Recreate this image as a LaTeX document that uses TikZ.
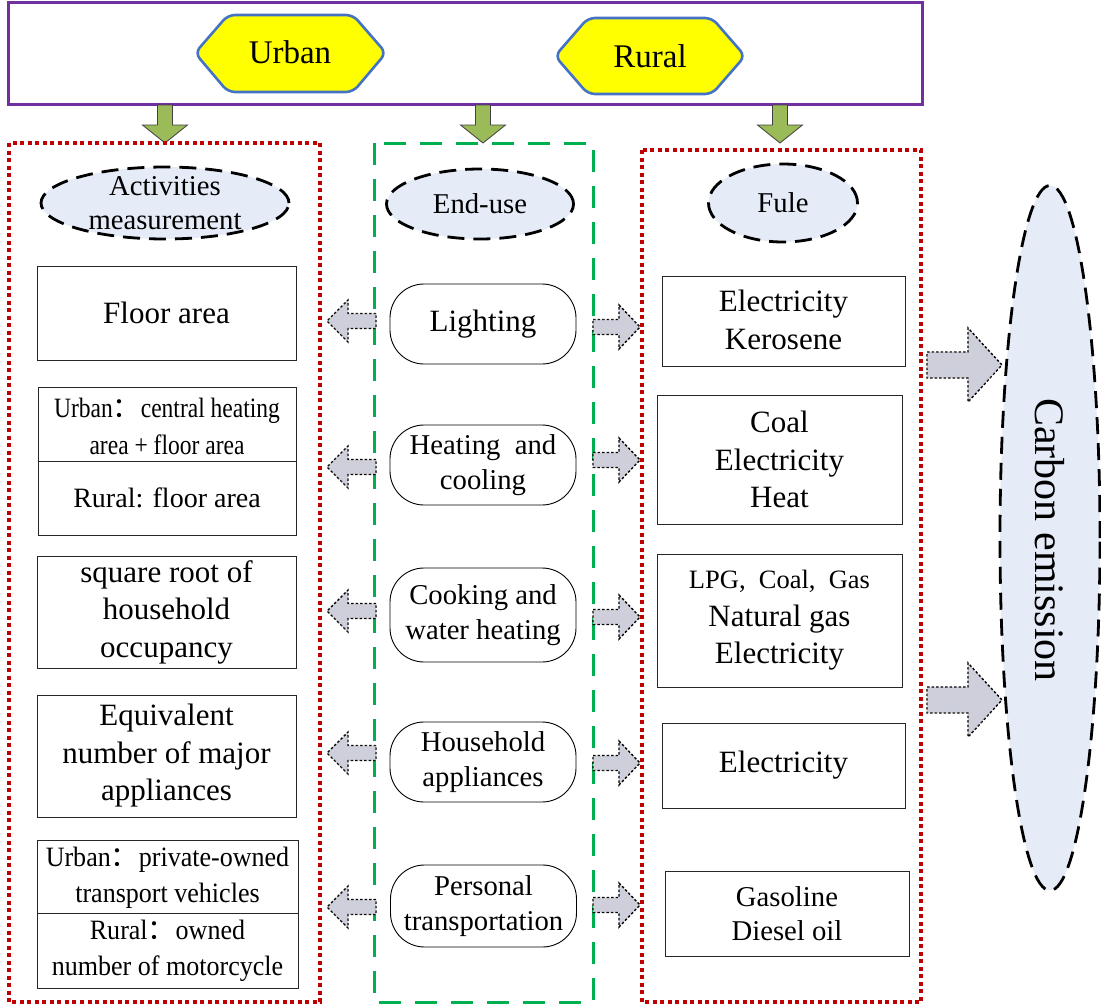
\documentclass[tikz,border=0pt]{standalone}
\usepackage{fontspec}
\setmainfont{Liberation Serif}
\newfontfamily\narrowfont[FakeStretch=0.84]{Liberation Serif}
\newfontfamily\narrowerfont[FakeStretch=0.93]{Liberation Serif}
\newfontfamily\cjk{Noto Sans CJK SC}
\usetikzlibrary{shapes.geometric,patterns}
\definecolor{bannerpurple}{RGB}{112,48,160}
\definecolor{hexblue}{RGB}{68,114,196}
\definecolor{hexyellow}{RGB}{255,255,0}
\definecolor{arrgreen}{RGB}{155,187,89}
\definecolor{boxred}{RGB}{192,0,0}
\definecolor{boxgreen}{RGB}{0,176,80}
\definecolor{ellfill}{RGB}{230,236,247}
\definecolor{arrgray}{RGB}{204,208,222}
\definecolor{dotpeach}{RGB}{240,200,170}
\newcommand\hblock[7]{% style, tailx, basex, tipx, y, shafthalf, headhalf
  \path[#1] (#2,#5-#6) -- (#3,#5-#6) -- (#3,#5-#7) -- (#4,#5) -- (#3,#5+#7) -- (#3,#5+#6) -- (#2,#5+#6) -- cycle;}
\newcommand\vblock[7]{% style, x, taily, basey, tipy, shafthalf, headhalf
  \path[#1] (#2-#6,#3) -- (#2-#6,#4) -- (#2-#7,#4) -- (#2,#5) -- (#2+#7,#4) -- (#2+#6,#4) -- (#2+#6,#3) -- cycle;}
\tikzset{
  box/.style={draw=black!85, line width=0.9pt, fill=white, inner sep=0pt},
  rbox/.style={draw=black, line width=0.9pt, fill=white, rounded corners=34pt, minimum width=186pt, inner sep=0pt},
  txt/.style={align=center, font=\fontsize{31}{37.5}\selectfont, inner sep=0pt},
  stxt/.style={align=center, font=\fontsize{28.7}{34.5}\selectfont, inner sep=0pt},
  ntxt/.style={align=center, font=\narrowfont\fontsize{28}{37}\selectfont, inner sep=0pt},
  n2txt/.style={align=center, font=\narrowerfont\fontsize{28}{36.5}\selectfont, inner sep=0pt},
  dell/.style={ellipse, draw=black, fill=ellfill, line width=2.8pt, dash pattern=on 17pt off 9pt, inner sep=0pt},
  garr/.style={fill=arrgreen, draw=black!75, line width=0.8pt},
  grayarr/.style={fill=arrgray, postaction={pattern=dots, pattern color=dotpeach}, draw=black, line width=1.4pt, dash pattern=on 2.5pt off 2pt},
  hexa/.style={fill=hexyellow, draw=hexblue, line width=2.6pt, rounded corners=7pt},
  redbox/.style={draw=boxred, line width=3.1pt, dash pattern=on 4pt off 3.5pt},
  greenbox/.style={draw=boxgreen, line width=3pt, dash pattern=on 22pt off 14pt},
}
\begin{document}
\begin{tikzpicture}[x=1pt,y=-1pt]
\useasboundingbox (0,0) rectangle (1101,1007);

% banner
\draw[bannerpurple, line width=3pt] (8,2) rectangle (922,104);
\path[hexa] (195,53) -- (228,15) -- (353,15) -- (386,53) -- (353,92) -- (228,92) -- cycle;
\node[txt, font=\fontsize{33}{38}\selectfont] (urban) at (290,52) {Urban};
\path[hexa] (555,56) -- (588,18) -- (712,18) -- (745,56) -- (712,94) -- (588,94) -- cycle;
\node[txt, font=\fontsize{33}{38}\selectfont] (rural) at (650,56) {Rural};

% green arrows
\vblock{garr}{165}{105}{125}{143}{7.5}{22.5}
\vblock{garr}{483}{105}{125}{143}{7.5}{22.5}
\vblock{garr}{780}{105}{125}{143}{7.5}{22.5}

% column frames
\draw[redbox] (9,143) rectangle (320,1002);
\draw[greenbox] (374,143) rectangle (593,1002);
\draw[redbox] (642,150) rectangle (921,1002);

% header ellipses
\node[dell, minimum width=248pt, minimum height=72pt] (act) at (165,203) {};
\node[stxt] (actt) at (165,203) {Activities\\measurement};
\node[dell, minimum width=187pt, minimum height=70pt] (end) at (480,204) {};
\node[stxt] (endt) at (480,204) {End-use};
\node[dell, minimum width=149pt, minimum height=78pt] (fule) at (783,203) {};
\node[stxt] (fulet) at (783,203) {Fule};

% left boxes
\node[box, minimum width=259pt, minimum height=94pt] (l1) at (166.5,313) {};
\node[txt] (l1t) at (166.5,313) {Floor area};

\node[box, minimum width=258pt, minimum height=148pt] (l2) at (167,461) {};
\draw[black!85, line width=0.9pt] (l2.west) -- (l2.east);
\node[ntxt] (l2a) at (167,426) {Urban{\cjk ：}central heating\\area + floor area};
\node[stxt, font=\fontsize{28}{34}\selectfont] (l2b) at (167,498) {Rural: floor area};

\node[box, minimum width=259pt, minimum height=112pt] (l3) at (166.5,612) {};
\node[txt] (l3t) at (166.5,612) {square root of\\household\\occupancy};

\node[box, minimum width=259pt, minimum height=122pt] (l4) at (166.5,756) {};
\node[txt] (l4t) at (166.5,756) {Equivalent\\number of major\\appliances};

\node[box, minimum width=261pt, minimum height=148pt] (l5) at (167.5,914) {};
\draw[black!85, line width=0.9pt] (37,913) -- (298,913);
\node[n2txt] (l5a) at (167.5,878) {Urban{\cjk ：}private-owned\\transport vehicles};
\node[n2txt] (l5b) at (167.5,951) {Rural{\cjk ：}owned\\number of motorcycle};

% middle rounded boxes
\node[rbox, minimum height=80pt] (m1) at (483,324) {};
\node[txt] (m1t) at (483,324) {Lighting};
\node[rbox, minimum height=80pt] (m2) at (483,465) {};
\node[stxt] (m2t) at (483,465) {Heating\ \ and\\cooling};
\node[rbox, minimum height=94pt] (m3) at (483,615) {};
\node[stxt] (m3t) at (483,615) {Cooking and\\water heating};
\node[rbox, minimum height=80pt] (m4) at (483,762) {};
\node[stxt] (m4t) at (483,762) {Household\\appliances};
\node[rbox, minimum height=82pt] (m5) at (483.5,906) {};
\node[stxt] (m5t) at (483.5,906) {Personal\\transportation};

% right boxes
\node[box, minimum width=243pt, minimum height=90pt] (r1) at (783.5,321) {};
\node[txt] (r1t) at (783.5,320) {Electricity\\Kerosene};
\node[box, minimum width=245pt, minimum height=129pt] (r2) at (779.5,459.5) {};
\node[txt] (r2t) at (779.5,459.5) {Coal\\Electricity\\Heat};
\node[box, minimum width=245pt, minimum height=133pt] (r3) at (779.5,620.5) {};
\node[txt] (r3t) at (779.5,620.5) {{\fontsize{26.5}{37.5}\selectfont LPG,\ \ Coal,\ \ Gas}\\Natural gas\\Electricity};
\node[box, minimum width=243pt, minimum height=85pt] (r4) at (783.5,765.5) {};
\node[txt] (r4t) at (783.5,765.5) {Electricity};
\node[box, minimum width=244pt, minimum height=85pt] (r5) at (787,913.5) {};
\node[stxt] (r5t) at (787,913.5) {Gasoline\\Diesel oil};

% carbon emission
\node[dell, minimum width=100pt, minimum height=705pt] (carbon) at (1050,538) {};
\node[txt, font=\fontsize{42}{46}\selectfont, rotate=-90] (carbont) at (1050,540) {Carbon emission};

% gray arrows
\foreach \y in {321,467,611,753,907} {
  \hblock{grayarr}{376}{348}{327}{\y}{7.5}{21}
}
\foreach \y in {327,460,617,763,905} {
  \hblock{grayarr}{593}{619}{640}{\y}{7.5}{22}
}
\hblock{grayarr}{927}{968}{1002}{365}{13}{37}
\hblock{grayarr}{927}{968}{1002}{700}{13}{37}
\end{tikzpicture}
\end{document}
